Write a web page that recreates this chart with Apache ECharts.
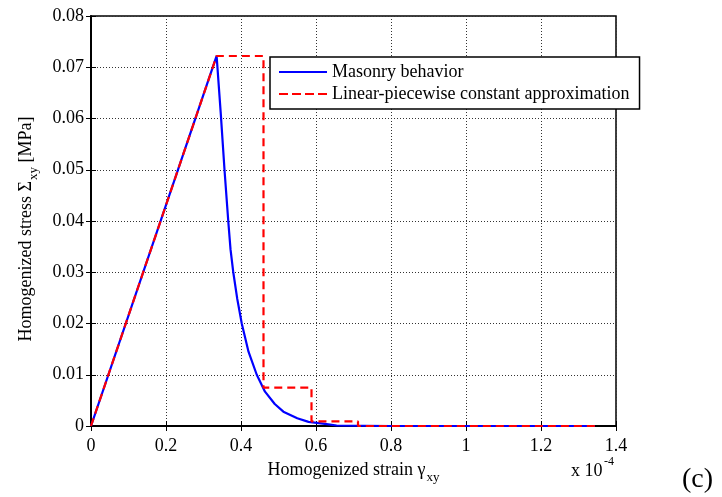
<!DOCTYPE html>
<html>
<head>
<meta charset="utf-8">
<script src="https://cdn.jsdelivr.net/npm/echarts@6/dist/echarts.min.js"></script>
<style>html,body{margin:0;padding:0;background:#fff}#c{width:722px;height:497px}</style>
</head>
<body>
<div id="c"></div>
<script>
// Masonry behavior (blue)
const masonryStrain = [0, 0.335, 0.346, 0.356, 0.366, 0.372, 0.379, 0.39, 0.402, 0.42, 0.442, 0.464, 0.49, 0.513, 0.55, 0.58, 0.624, 0.655, 0.8, 1.0, 1.2, 1.344];
const masonryStress = [0, 0.0722, 0.061, 0.05, 0.04, 0.0345, 0.0302, 0.0248, 0.02, 0.0145, 0.01, 0.0067, 0.0043, 0.0028, 0.0015, 0.0008, 0.0004, 0.0001, 0, 0, 0, 0];
// Linear-piecewise constant approximation (red dashed)
const approxStrain = [0, 0.335, 0.46, 0.46, 0.588, 0.588, 0.712, 0.712, 1.344];
const approxStress = [0, 0.0722, 0.0722, 0.0075, 0.0075, 0.0009, 0.0009, 0, 0];
const xTicks = [0, 0.2, 0.4, 0.6, 0.8, 1, 1.2, 1.4];
const yTicks = [0, 0.01, 0.02, 0.03, 0.04, 0.05, 0.06, 0.07, 0.08];
const seriesNames = ['Masonry behavior', 'Linear-piecewise constant approximation'];

const FONT = '"Liberation Serif", "Times New Roman", serif';
const chart = echarts.init(document.getElementById('c'), null, {renderer: 'canvas'});
const grid = {left: 91, right: 106, top: 16, bottom: 71, show: true, borderColor: '#000', borderWidth: 1.5, backgroundColor: '#fff'};
const split = {show: true, lineStyle: {color: '#333', type: [1, 2], width: 1}};
const labelStyle = {color: '#000', fontFamily: FONT, fontSize: 18};

const option = {
  animation: false,
  grid: grid,
  xAxis: [{
    type: 'value', min: 0, max: 1.4, interval: 0.2,
    axisLine: {show: true, lineStyle: {color: '#000', width: 2}},
    axisTick: {show: true, inside: true, length: 5, lineStyle: {color: '#000'}},
    axisLabel: Object.assign({margin: 11, formatter: v => String(xTicks.find(t => Math.abs(t - v) < 1e-9) ?? v)}, labelStyle),
    splitLine: split,
    name: 'Homogenized strain {g|γ}{s|xy}',
    nameLocation: 'middle', nameGap: 31,
    nameTextStyle: {fontFamily: FONT, fontSize: 18, color: '#000',
      rich: {g: {fontFamily: FONT, fontSize: 18, color: '#000'}, s: {fontFamily: FONT, fontSize: 13, color: '#000', padding: [14, 0, 0, 1]}}}
  }, {
    type: 'value', min: 0, max: 1.4, interval: 0.2, position: 'top',
    axisLine: {show: false}, axisTick: {show: true, inside: true, length: 5, lineStyle: {color: '#000'}},
    axisLabel: {show: false}, splitLine: {show: false}
  }],
  yAxis: [{
    type: 'value', min: 0, max: 0.08, interval: 0.01,
    axisLine: {show: true, lineStyle: {color: '#000', width: 2}},
    axisTick: {show: true, inside: true, length: 5, lineStyle: {color: '#000'}},
    axisLabel: Object.assign({margin: 7, formatter: v => { const t = yTicks.find(t => Math.abs(t - v) < 1e-9); return t === 0 ? '0' : t.toFixed(2); }}, labelStyle),
    splitLine: split,
    name: 'Homogenized stress Σ{s|xy} [MPa]',
    nameLocation: 'middle', nameGap: 51, nameRotate: 90,
    nameTextStyle: {fontFamily: FONT, fontSize: 18, color: '#000', padding: [0, 16, 0, 0],
      rich: {s: {fontFamily: FONT, fontSize: 13, color: '#000', padding: [14, 0, 0, 1]}}}
  }, {
    type: 'value', min: 0, max: 0.08, interval: 0.01, position: 'right',
    axisLine: {show: false}, axisTick: {show: true, inside: true, length: 5, lineStyle: {color: '#000'}},
    axisLabel: {show: false}, splitLine: {show: false}
  }],
  legend: {
    left: 270, top: 57, orient: 'vertical', itemWidth: 48, itemHeight: 2, itemGap: 4,
    backgroundColor: '#fff', borderColor: '#000', borderWidth: 1.5, borderRadius: 0,
    padding: [6, 10, 6, 9],
    textStyle: {fontFamily: FONT, fontSize: 18, color: '#000', lineHeight: 18},
    data: [
      {name: seriesNames[0], icon: 'rect', itemStyle: {color: '#0000ff', borderWidth: 0}, lineStyle: {width: 0}},
      {name: seriesNames[1], icon: 'path://M0,0 h9 v2 h-9 z M13,0 h9 v2 h-9 z M26,0 h9 v2 h-9 z M39,0 h9 v2 h-9 z', itemStyle: {color: '#ff0000', borderWidth: 0}, lineStyle: {width: 0}}
    ]
  },
  series: [{
    name: seriesNames[0], type: 'line', showSymbol: false, symbol: 'none',
    data: masonryStrain.map((x, i) => [x, masonryStress[i]]),
    lineStyle: {color: '#0000ff', width: 2.2}, itemStyle: {color: '#0000ff'}, z: 3
  }, {
    name: seriesNames[1], type: 'line', showSymbol: false, symbol: 'none',
    data: approxStrain.map((x, i) => [x, approxStress[i]]),
    lineStyle: {color: '#ff0000', width: 2.2, type: [8, 5]}, itemStyle: {color: '#ff0000'}, z: 4
  }],
  graphic: [
    {type: 'text', left: 571, top: 462, style: {text: 'x 10', fontFamily: FONT, fontSize: 18, fill: '#000'}},
    {type: 'text', left: 604, top: 456, style: {text: '-4', fontFamily: FONT, fontSize: 12, fill: '#000'}},
    {type: 'text', left: 682, top: 466, style: {text: '(c)', fontFamily: FONT, fontSize: 28, fill: '#000'}}
  ]
};
chart.setOption(option);
</script>
</body>
</html>
